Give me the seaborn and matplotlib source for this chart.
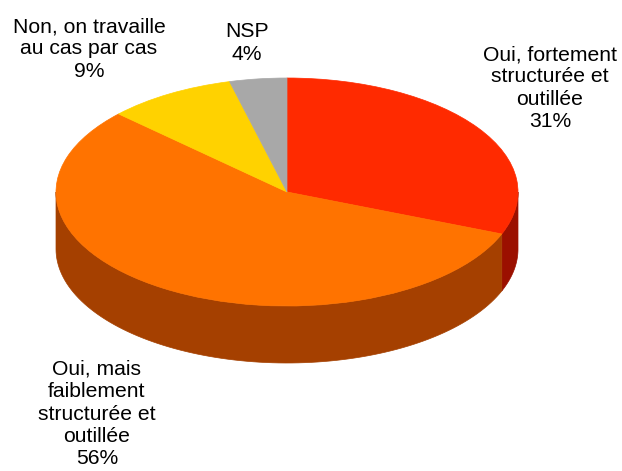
import numpy as np
import matplotlib
matplotlib.use("Agg")
import matplotlib.pyplot as plt
import seaborn as sns

# data, clockwise from 12 o'clock
labels = ["Oui, fortement\nstructurée et\noutillée", "Oui, mais\nfaiblement\nstructurée et\noutillée",
          "Non, on travaille\nau cas par cas", "NSP"]
shares = [31, 56, 9, 4]
top_colors = ["#FF2A00", "#FF7300", "#FFD200", "#A8A8A8"]
side_colors = ["#9B1000", "#A54000", "#A68900", "#6E6E6E"]

sns.set_style("white")
plt.rcParams["font.family"] = ["Liberation Sans", "DejaVu Sans"]

W, H = 622, 471
cx, cy = 287, 192      # centre of the top face, pixels
rx, ry = 231, 114      # ellipse radii, pixels
depth = 57 / ry        # thickness in data units

fig = plt.figure(figsize=(W / 100, H / 100), dpi=100)
ax = fig.add_axes([0, 0, 1, 1])

# side walls (front half only)
fracs = np.array(shares) / sum(shares)
bounds = 90 - 360 * np.concatenate([[0], np.cumsum(fracs)])
for i in range(len(shares)):
    hi, lo = bounds[i], bounds[i + 1]
    for off in (0, -360):
        a, b = max(lo, -180 + off), min(hi, 0 + off)
        if a < b:
            t = np.radians(np.linspace(a, b, 100))
            xs = np.concatenate([np.cos(t), np.cos(t[::-1])])
            ys = np.concatenate([np.sin(t), np.sin(t[::-1]) - depth])
            ax.fill(xs, ys, color=side_colors[i], lw=0.5, ec=side_colors[i], zorder=1)

# top face
wedges, _ = ax.pie(shares, colors=top_colors, startangle=90, counterclock=False, radius=1,
                   wedgeprops=dict(linewidth=0.5, zorder=2))
for w, c in zip(wedges, top_colors):
    w.set_edgecolor(c)
ax.set_aspect("auto")
ax.set_xlim(-cx / rx, (W - cx) / rx)
ax.set_ylim(-(H - cy) / ry, cy / ry)
ax.axis("off")

# labels (pixel positions)
label_pos = [(550, 88), (97, 414), (89, 49), (247, 43)]
for lab, s, (px, py) in zip(labels, shares, label_pos):
    fig.text(px / W, 1 - py / H, f"{lab}\n{s}%", ha="center", va="center",
             fontsize=15.2, linespacing=1.22, color="black")

plt.savefig("out.png", dpi=100)
